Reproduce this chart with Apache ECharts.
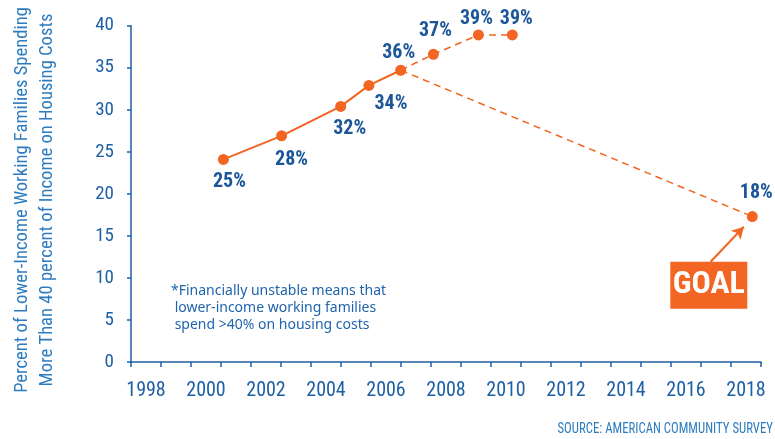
<!DOCTYPE html>
<html>
<head>
<meta charset="utf-8">
<script src="https://cdn.jsdelivr.net/npm/echarts@6/dist/echarts.min.js"></script>
<style>
html,body{margin:0;padding:0;background:#fff;}
#chart{width:775px;height:439px;}
</style>
</head>
<body>
<div id="chart"></div>
<script>
// ---- data ----
var categories = ['1998','1999','2000','2001','2002','2003','2004','2005','2006','2007','2008','2009','2010','2011','2012','2013','2014','2015','2016','2017','2018'];
var pointYears = [2000.58, 2002.52, 2004.49, 2005.43, 2006.49, 2007.58, 2009.08, 2010.21, 2018.21];
var pointValues = [24.1, 26.9, 30.4, 32.9, 34.7, 36.6, 38.9, 38.9, 17.3];
var pointLabels = ['25%', '28%', '32%', '34%', '36%', '37%', '39%', '39%', '18%'];
var yTicks = [0, 5, 10, 15, 20, 25, 30, 35, 40];
var goalText = 'GOAL';
var goalBox = [2016.76, 9.12];
var goalArrow = [[2016.82, 11.93], [2017.93, 16.09]];
var yTitle = ['Percent of Lower-Income Working Families Spending', 'More Than 40 percent of Income on Housing Costs'];
var footnote = ['*Financially unstable means that', ' lower-income working families', ' spend >40% on housing costs'];
var sourceText = 'SOURCE: AMERICAN COMMUNITY SURVEY';

// ---- style ----
var ORANGE = '#f26522';
var BLUE = '#1e5fa5';
var LBLUE = '#2d7cc0';
var COND = '"Roboto Condensed","Open Sans",sans-serif';
var labelOffsets = [[6, 23], [10, 24], [9, 23], [22, 19], [-2, -17], [2, -23], [-2, -16], [4, -16], [4, -24]];

function pts(idx) { return idx.map(function (i) { return [pointYears[i], pointValues[i]]; }); }

var solidIdx = [0, 1, 2, 3, 4];
var dashUpIdx = [4, 5, 6, 7];
var dashGoalIdx = [4, 8];

var chart = echarts.init(document.getElementById('chart'), null, { renderer: 'canvas' });
chart.setOption({
  animation: false,
  grid: { left: 131, right: 14, top: 25.7, bottom: 77, containLabel: false },
  xAxis: [{
    type: 'category',
    data: categories,
    boundaryGap: true,
    axisLine: { show: true, lineStyle: { color: BLUE, width: 1.5 } },
    axisTick: { show: true, interval: 0, length: 5, lineStyle: { color: BLUE, width: 1.5 } },
    axisLabel: { interval: 1, color: BLUE, fontFamily: COND, fontSize: 20, margin: 19 },
    splitLine: { show: false }
  }, {
    type: 'value',
    min: 1997.5,
    max: 2018.5,
    show: false
  }],
  yAxis: {
    type: 'value',
    min: yTicks[0],
    max: yTicks[yTicks.length - 1],
    interval: yTicks[1] - yTicks[0],
    axisLine: { show: true, lineStyle: { color: BLUE, width: 1.5 } },
    axisTick: { show: true, length: 4, lineStyle: { color: BLUE, width: 1.5 } },
    axisLabel: { color: BLUE, fontFamily: COND, fontSize: 19, margin: 17 },
    splitLine: { show: false }
  },
  series: [{
    type: 'line',
    xAxisIndex: 1,
    data: pts(solidIdx),
    showSymbol: false,
    lineStyle: { color: ORANGE, width: 2 },
    z: 2
  }, {
    type: 'line',
    xAxisIndex: 1,
    data: pts(dashUpIdx),
    showSymbol: false,
    lineStyle: { color: ORANGE, width: 1.5, type: [7, 5] },
    z: 2
  }, {
    type: 'line',
    xAxisIndex: 1,
    data: pts(dashGoalIdx),
    showSymbol: false,
    lineStyle: { color: ORANGE, width: 1.5, type: [7, 5] },
    z: 2,
    markLine: {
      silent: true,
      symbol: ['none', 'arrow'],
      symbolSize: [10, 12],
      label: { show: false },
      lineStyle: { color: ORANGE, width: 2, type: 'solid' },
      data: [[{ coord: goalArrow[0] }, { coord: goalArrow[1] }]]
    },
    markPoint: {
      silent: true,
      symbol: 'rect',
      symbolSize: [77, 47],
      itemStyle: { color: ORANGE },
      label: { show: true, position: 'inside', formatter: goalText, color: '#fff', fontFamily: COND, fontWeight: 'bold', fontSize: 32 },
      data: [{ coord: goalBox }]
    }
  }, {
    type: 'scatter',
    xAxisIndex: 1,
    symbol: 'circle',
    symbolSize: 11,
    itemStyle: { color: ORANGE, opacity: 1 },
    z: 3,
    data: pointValues.map(function (v, i) {
      return {
        value: [pointYears[i], v],
        label: { show: true, position: 'inside', offset: labelOffsets[i], formatter: pointLabels[i], color: '#1a5699', opacity: 1, fontFamily: COND, fontWeight: 'bold', fontSize: 20 }
      };
    })
  }],
  graphic: [{
    type: 'text',
    x: 35, y: 200,
    rotation: Math.PI / 2,
    style: { text: yTitle.join('\n'), align: 'center', verticalAlign: 'middle', lineHeight: 25, fill: LBLUE, fontFamily: COND, fontSize: 18.6 }
  }, {
    type: 'text',
    left: 171, top: 283,
    style: { text: footnote.join('\n'), lineHeight: 17, fill: '#1f64ad', fontFamily: '"Noto Sans",sans-serif', fontSize: 14 }
  }, {
    type: 'text',
    x: 773, y: 429,
    scaleX: 0.85,
    style: { text: sourceText, align: 'right', verticalAlign: 'middle', fill: LBLUE, fontFamily: COND, fontSize: 15 }
  }]
});
</script>
</body>
</html>
